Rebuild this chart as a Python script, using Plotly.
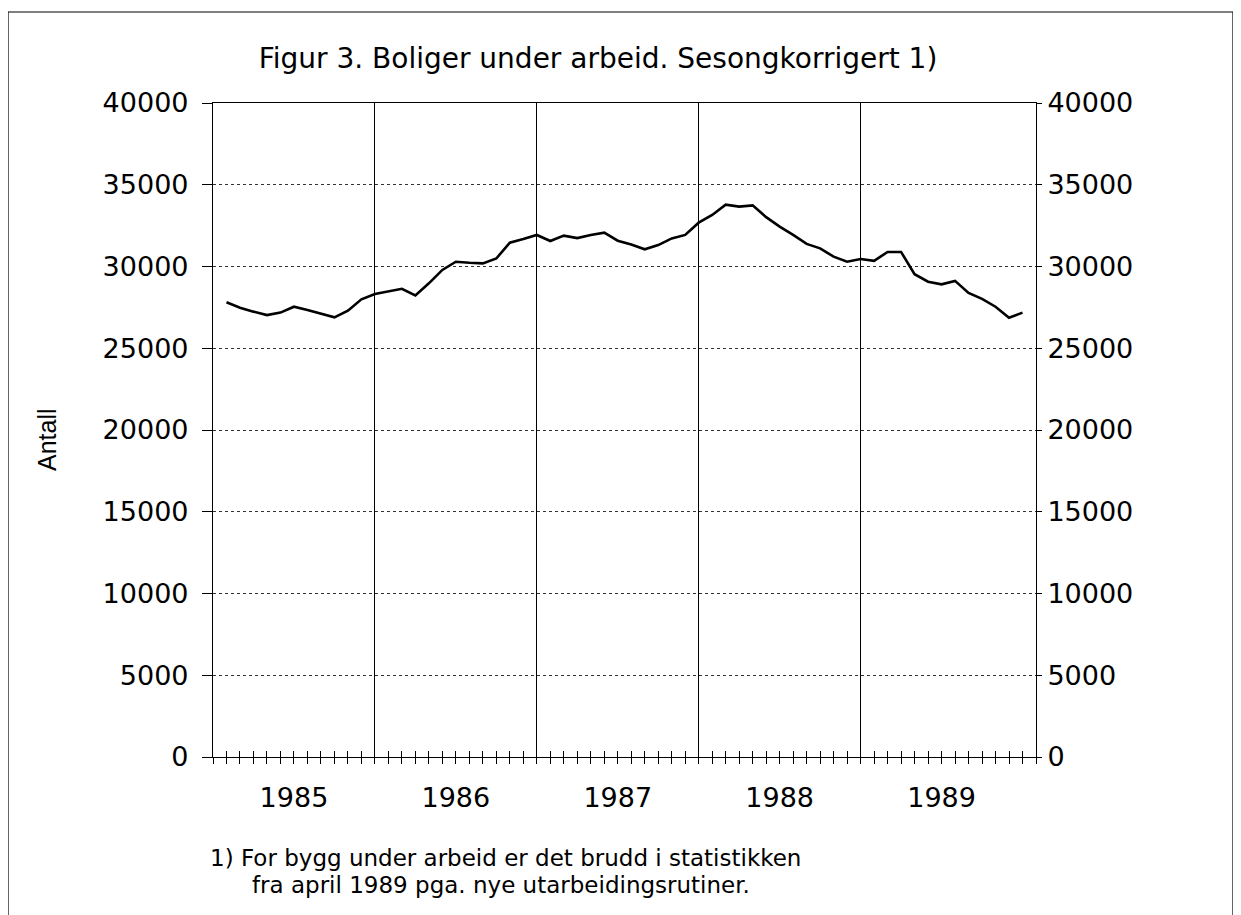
import plotly.graph_objects as go

# Monthly data, Jan 1985 .. Dec 1989 (month index 1..60)
years = ["1985", "1986", "1987", "1988", "1989"]
v1985 = [27810, 27480, 27240, 27030, 27180, 27540, 27340, 27100, 26890, 27300, 27990, 28320]
v1986 = [28460, 28640, 28230, 28970, 29790, 30290, 30230, 30190, 30490, 31460, 31680, 31930]
v1987 = [31560, 31890, 31740, 31930, 32070, 31580, 31350, 31050, 31310, 31720, 31930, 32680]
v1988 = [33150, 33780, 33660, 33740, 33020, 32440, 31930, 31380, 31110, 30600, 30290, 30460]
v1989 = [30350, 30890, 30890, 29530, 29070, 28910, 29120, 28380, 28020, 27540, 26870, 27180]

values = v1985 + v1986 + v1987 + v1988 + v1989
months = list(range(1, len(values) + 1))
year_label_pos = [6 + 12 * i for i in range(len(years))]
year_bounds = [12, 24, 36, 48]
y_ticks = list(range(0, 40001, 5000))
y_ticktext = [str(v) for v in y_ticks]

FONT = "DejaVu Sans"
XR = [0, 61]
YR = [0, 40000]

# page renders with an 8px body offset; work in figure coordinates
OFF = 8
W, H = 1241 - OFF, 915 - OFF
L, T = 213 - OFF, 103 - OFF
PW, PH = 823, 654
R = W - L - PW
B = H - T - PH


def px(xp):
    return (xp - OFF - L) / PW


def py(yp):
    return (T + PH - (yp - OFF)) / PH


fig = go.Figure()
fig.add_trace(go.Scatter(x=months, y=values, mode="lines",
                         line=dict(color="black", width=2.6),
                         showlegend=False, hoverinfo="skip"))
# empty helpers so the overlay axes are drawn
for ax in ["x2", "x3", "x4"]:
    fig.add_trace(go.Scatter(x=[], y=[], xaxis=ax, yaxis="y", showlegend=False))
fig.add_trace(go.Scatter(x=[], y=[], xaxis="x", yaxis="y2", showlegend=False))

axis_font = dict(family=FONT, size=27, color="black")

fig.update_layout(
    width=W, height=H,
    margin=dict(l=L, r=R, t=T, b=B),
    paper_bgcolor="white", plot_bgcolor="white",
    font=dict(family=FONT, color="black"),
    title=dict(text="Figur 3. Boliger under arbeid. Sesongkorrigert 1)",
               x=(598 - OFF) / W, xref="container", xanchor="center",
               y=1 - (58 - OFF) / H, yref="container", yanchor="middle",
               font=dict(family=FONT, size=28, color="black")),
    xaxis=dict(range=XR, tickmode="array", tickvals=year_label_pos, ticktext=years,
               ticks="", showgrid=False, zeroline=False,
               showline=True, linecolor="black", linewidth=1.2, mirror=True,
               tickfont=axis_font, ticklabelstandoff=16),
    xaxis2=dict(range=XR, overlaying="x", anchor="y", side="bottom",
                tickmode="linear", tick0=0, dtick=1, ticks="outside", ticklen=6,
                tickcolor="black", tickwidth=1, showticklabels=False,
                showgrid=False, zeroline=False, showline=False),
    xaxis3=dict(range=XR, overlaying="x", anchor="y", side="bottom",
                tickmode="linear", tick0=0, dtick=1, ticks="inside", ticklen=6,
                tickcolor="black", tickwidth=1, showticklabels=False,
                showgrid=False, zeroline=False, showline=False),
    xaxis4=dict(range=XR, overlaying="x", anchor="y", side="bottom",
                tickmode="array", tickvals=year_bounds, ticks="", showticklabels=False,
                showgrid=True, gridcolor="black", gridwidth=1,
                zeroline=False, showline=False),
    yaxis=dict(range=YR, tickmode="array", tickvals=y_ticks, ticktext=y_ticktext,
               ticks="outside", ticklen=10, tickcolor="black", tickwidth=1,
               showgrid=True, gridcolor="#333", gridwidth=1, griddash="dot",
               zeroline=False, showline=True, linecolor="black", linewidth=1.2,
               mirror=True, tickfont=axis_font, ticklabelstandoff=8),
    yaxis2=dict(range=YR, overlaying="y", side="right", anchor="x",
                tickmode="array", tickvals=y_ticks, ticktext=y_ticktext,
                ticks="outside", ticklen=5, tickcolor="black", tickwidth=1,
                showgrid=False, zeroline=False, showline=False,
                tickfont=axis_font, ticklabelstandoff=0),
)

# y-axis title
fig.add_annotation(text="Antall", xref="paper", yref="paper",
                   x=px(47), y=py(440), textangle=-90,
                   showarrow=False, xanchor="center", yanchor="middle",
                   font=dict(family="Liberation Sans Narrow, Liberation Sans", size=25, color="black"))

# footnote
fig.add_annotation(text="1) For bygg under arbeid er det brudd i statistikken",
                   xref="paper", yref="paper", x=px(208), y=py(858),
                   showarrow=False, xanchor="left", yanchor="middle",
                   font=dict(family=FONT, size=23, color="black"))
fig.add_annotation(text="fra april 1989 pga. nye utarbeidingsrutiner.",
                   xref="paper", yref="paper", x=px(250), y=py(885),
                   showarrow=False, xanchor="left", yanchor="middle",
                   font=dict(family=FONT, size=23, color="black"))

# outer frame
fig.add_shape(type="rect", xref="paper", yref="paper",
              x0=px(8), x1=px(1233),
              y0=py(940), y1=py(12),
              line=dict(color="black", width=1.2), fillcolor="rgba(0,0,0,0)")

fig.write_html("out.html")
